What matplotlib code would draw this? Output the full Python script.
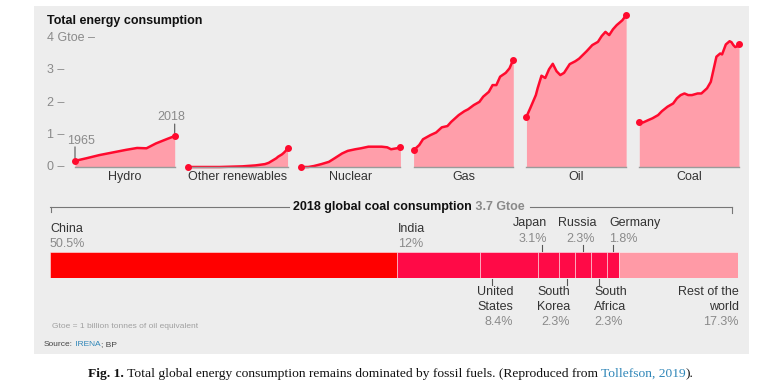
import matplotlib
matplotlib.use("Agg")
import matplotlib.pyplot as plt
from matplotlib import font_manager
from matplotlib.patches import Rectangle
import numpy as np

# ---------------- data ----------------
sources = ["Hydro", "Other renewables", "Nuclear", "Gas", "Oil", "Coal"]

hydro_years = [1965, 1971, 1978, 1985, 1992, 1998, 2003, 2008, 2014, 2018]
hydro = [0.19, 0.27, 0.37, 0.45, 0.53, 0.59, 0.58, 0.73, 0.87, 0.96]

other_years = [1965, 1982, 1994, 2001, 2006, 2008, 2010, 2012, 2013, 2015, 2016, 2017, 2018]
other = [0.0, 0.0, 0.02, 0.05, 0.09, 0.13, 0.20, 0.27, 0.32, 0.39, 0.44, 0.50, 0.58]

nuclear_years = [1965, 1969, 1972, 1976, 1980, 1983, 1987, 1990, 1994, 1997, 2001, 2004, 2008, 2011, 2013, 2016, 2018]
nuclear = [0.0, 0.0, 0.03, 0.09, 0.16, 0.27, 0.42, 0.50, 0.55, 0.58, 0.63, 0.63, 0.63, 0.61, 0.55, 0.58, 0.61]

gas_years = [1965, 1968, 1970, 1974, 1977, 1980, 1983, 1985, 1989, 1992, 1994, 1997, 2000, 2002, 2005, 2007, 2009, 2011, 2014, 2016, 2018]
gas = [0.52, 0.68, 0.86, 0.99, 1.07, 1.23, 1.27, 1.40, 1.61, 1.73, 1.79, 1.92, 2.02, 2.18, 2.33, 2.54, 2.54, 2.80, 2.92, 3.06, 3.33]

oil_years = [1965, 1967, 1970, 1971, 1973, 1975, 1977, 1979, 1981, 1983, 1985, 1988, 1991, 1993, 1997, 2000, 2003, 2005, 2007, 2009, 2011, 2013, 2016, 2018]
oil = [1.56, 1.82, 2.23, 2.45, 2.83, 2.76, 3.03, 3.20, 2.97, 2.85, 2.92, 3.19, 3.28, 3.36, 3.59, 3.78, 3.88, 4.06, 4.19, 4.09, 4.27, 4.40, 4.55, 4.71]

coal_years = [1965, 1967, 1970, 1972, 1975, 1977, 1980, 1983, 1985, 1987, 1989, 1991, 1993, 1996, 1998, 2001, 2003, 2004, 2006, 2008, 2009, 2011, 2013, 2014, 2015, 2016, 2017, 2018]
coal = [1.40, 1.38, 1.46, 1.51, 1.61, 1.73, 1.87, 1.97, 2.13, 2.23, 2.28, 2.23, 2.23, 2.28, 2.28, 2.44, 2.64, 2.90, 3.42, 3.52, 3.49, 3.80, 3.90, 3.87, 3.78, 3.72, 3.74, 3.80]

series_years = [hydro_years, other_years, nuclear_years, gas_years, oil_years, coal_years]
series_vals = [hydro, other, nuclear, gas, oil, coal]

ytick_vals = [0, 1, 2, 3, 4]
ytick_labels = ["0 \u2013", "1 \u2013", "2 \u2013", "3 \u2013", "4 Gtoe \u2013"]

countries = ["China", "India", "United States", "Japan", "South Korea",
             "Russia", "South Africa", "Germany", "Rest of the world"]
shares = [50.5, 12.0, 8.4, 3.1, 2.3, 2.3, 2.3, 1.8, 17.3]
share_labels = ["50.5%", "12%", "8.4%", "3.1%", "2.3%", "2.3%", "2.3%", "1.8%", "17.3%"]
total_coal = "3.7 Gtoe"

# ---------------- style ----------------
names = {f.name for f in font_manager.fontManager.ttflist}
SANS = "Liberation Sans Narrow" if "Liberation Sans Narrow" in names else "Liberation Sans"
SERIF = "Liberation Serif" if "Liberation Serif" in names else "DejaVu Serif"
plt.rcParams["font.family"] = [SANS, "DejaVu Sans"]

FS = 9
BG = "#ededed"
LINE = "#ff0a2e"
FILL = "#ff9eaa"
GREY = "#8a8a8a"
DARK = "#333333"
BLUE = "#2f86b8"

W, H = 771, 390
fig = plt.figure(figsize=(W / 100, H / 100), dpi=100)

axp = fig.add_axes([0, 0, 1, 1])
axp.set_xlim(0, W)
axp.set_ylim(H, 0)
axp.axis("off")
axp.add_patch(Rectangle((34, 6), 715, 348, facecolor=BG, edgecolor="none", zorder=0))


def pax(x0, y0, x1, y1):
    return fig.add_axes([x0 / W, (H - y1) / H, (x1 - x0) / W, (y1 - y0) / H])


# ---------------- top chart ----------------
STEP = 60
SPAN = 53
YMAX = 4.8
px_per_unit = 32.25
top_px = 167 - YMAX * px_per_unit
ax = pax(75, top_px, 739, 167)
ax.patch.set_alpha(0)
ax.set_xlim(0, 5 * STEP + SPAN)
ax.set_ylim(0, YMAX)
ax.axis("off")

for i, (name, yrs, vals) in enumerate(zip(sources, series_years, series_vals)):
    xs = np.array(yrs) - 1965 + i * STEP
    ax.fill_between(xs, 0, vals, color=FILL, lw=0, zorder=2)
    ax.plot(xs, vals, color=LINE, lw=1.8, zorder=3, solid_joinstyle="round",
            solid_capstyle="round", clip_on=False)
    ax.plot([xs[0], xs[-1]], [vals[0], vals[-1]], "o", color=LINE, ms=4, zorder=4, clip_on=False)
    ax.plot([i * STEP, i * STEP + SPAN], [0, 0], color="#9a9a9a", lw=1.0, zorder=3, clip_on=False)
    ax.text(i * STEP + SPAN / 2, -0.31, name, ha="center", va="center", fontsize=FS,
            color=DARK, clip_on=False)

ytr = ax.get_yaxis_transform()
for v, lab in zip(ytick_vals, ytick_labels):
    ax.text(-28 / 664, v, lab, transform=ytr, ha="left", va="center", fontsize=FS, color=GREY)

# 1965 / 2018 annotations on hydro
p0 = (hydro_years[0] - 1965, hydro[0])
p1 = (hydro_years[-1] - 1965, hydro[-1])
ax.annotate("", xy=p0, xytext=(0, 14), textcoords="offset pixels",
            arrowprops=dict(arrowstyle="-", color="#555555", lw=0.8, shrinkA=0, shrinkB=2))
ax.annotate("1965", xy=p0, xytext=(-8, 20), textcoords="offset pixels",
            ha="left", va="center", fontsize=FS, color=GREY)
ax.annotate("", xy=p1, xytext=(0, 12), textcoords="offset pixels",
            arrowprops=dict(arrowstyle="-", color="#555555", lw=0.8, shrinkA=0, shrinkB=2))
ax.annotate("2018", xy=p1, xytext=(-3, 19), textcoords="offset pixels",
            ha="center", va="center", fontsize=FS, color=GREY)

axp.text(47, 21, "Total energy consumption", ha="left", va="center", fontsize=9,
         fontweight="bold", color="#111111")

# ---------------- coal bar ----------------
axb = pax(50, 252, 738, 278)
axb.patch.set_alpha(0)
axb.set_xlim(0, 100)
axb.set_ylim(0, 1)
axb.axis("off")
lefts = np.concatenate([[0], np.cumsum(shares)[:-1]])
colors = ["#ff0000"] + ["#ff0a47"] * 7 + ["#ff9aa6"]
axb.barh(0.5, shares, left=lefts, height=1.0, color=colors,
         edgecolor=(1, 1, 1, 0.45), linewidth=0.7)


def seq_text(parts, x, y, center=False, **kw):
    r = fig.canvas.get_renderer()
    objs = []
    cx = x
    for s, props in parts:
        t = axp.text(cx, y, s, ha="left", **kw, **props)
        cx += t.get_window_extent(r).width
        objs.append(t)
    shift = (cx - x) / 2 if center else 0
    for t in objs:
        px, py = t.get_position()
        t.set_position((px - shift, py))
    return x - shift, cx - shift


# header bracket
h0, h1 = seq_text([("2018 global coal consumption", dict(fontweight="bold", color="#111111")),
                   (" " + total_coal, dict(fontweight="bold", color=GREY))],
                  409, 207, center=True, va="center", fontsize=FS)
axp.plot([50, h0 - 4], [207, 207], color="#777777", lw=0.8)
axp.plot([50.5, 50.5], [207, 212], color="#777777", lw=0.8)
axp.plot([h1 + 5, 732], [207, 207], color="#777777", lw=0.8)
axp.plot([732, 732], [207, 213], color="#777777", lw=0.8)

# labels
axp.text(50, 229, "China", ha="left", va="center", color=DARK, fontsize=FS)
axp.text(50, 244, share_labels[0], ha="left", va="center", color=GREY, fontsize=FS)
axp.text(398, 229, "India", ha="left", va="center", color=DARK, fontsize=FS)
axp.text(398, 244, share_labels[1], ha="left", va="center", color=GREY, fontsize=FS)

above = {3: (530, "center", 547, "right", 0.2), 5: (577, "center", 595, "right", 0.5),
         7: (609, "left", 609, "left", 0.5)}
for idx, (nx, nha, px_, pha, frac) in above.items():
    axp.text(nx, 223, countries[idx], ha=nha, va="center", color=DARK, fontsize=FS)
    axp.text(px_, 239, share_labels[idx], ha=pha, va="center", color=GREY, fontsize=FS)
    tx = lefts[idx] + frac * shares[idx]
    axb.plot([tx, tx], [1.05, 1.28], color="#555555", lw=0.8, clip_on=False)

below = {2: (("United", "States"), 513, "right", 0.2), 4: (("South", "Korea"), 570, "right", 0.5),
         6: (("South", "Africa"), 594, "left", 0.5), 8: (("Rest of the", "world"), 739, "right", None)}
for idx, (lines, x, ha, frac) in below.items():
    axp.text(x, 292, lines[0], ha=ha, va="center", color=DARK, fontsize=FS)
    axp.text(x, 307, lines[1], ha=ha, va="center", color=DARK, fontsize=FS)
    axp.text(x, 322, share_labels[idx], ha=ha, va="center", color=GREY, fontsize=FS)
    if frac is not None:
        tx = lefts[idx] + frac * shares[idx]
        axb.plot([tx, tx], [-0.05, -0.28], color="#555555", lw=0.8, clip_on=False)

axp.text(52, 327, "Gtoe = 1 billion tonnes of oil equivalent", ha="left", va="center",
         fontsize=6, color="#a0a0a0")
seq_text([("Source:", dict(color="#444444")), (" IRENA", dict(color=BLUE)),
          ("; BP", dict(color="#444444"))], 44, 345, va="center", fontsize=6)

# caption
seq_text([("Fig. 1.", dict(fontweight="bold", color="#111111")),
          (" Total global energy consumption remains dominated by fossil fuels. (Reproduced from ",
           dict(color="#111111")),
          ("Tollefson, 2019", dict(color=BLUE)),
          (").", dict(color="#111111"))],
         391, 374, center=True, va="center", fontsize=9.7, family=SERIF)

fig.savefig("out.png", dpi=100)
